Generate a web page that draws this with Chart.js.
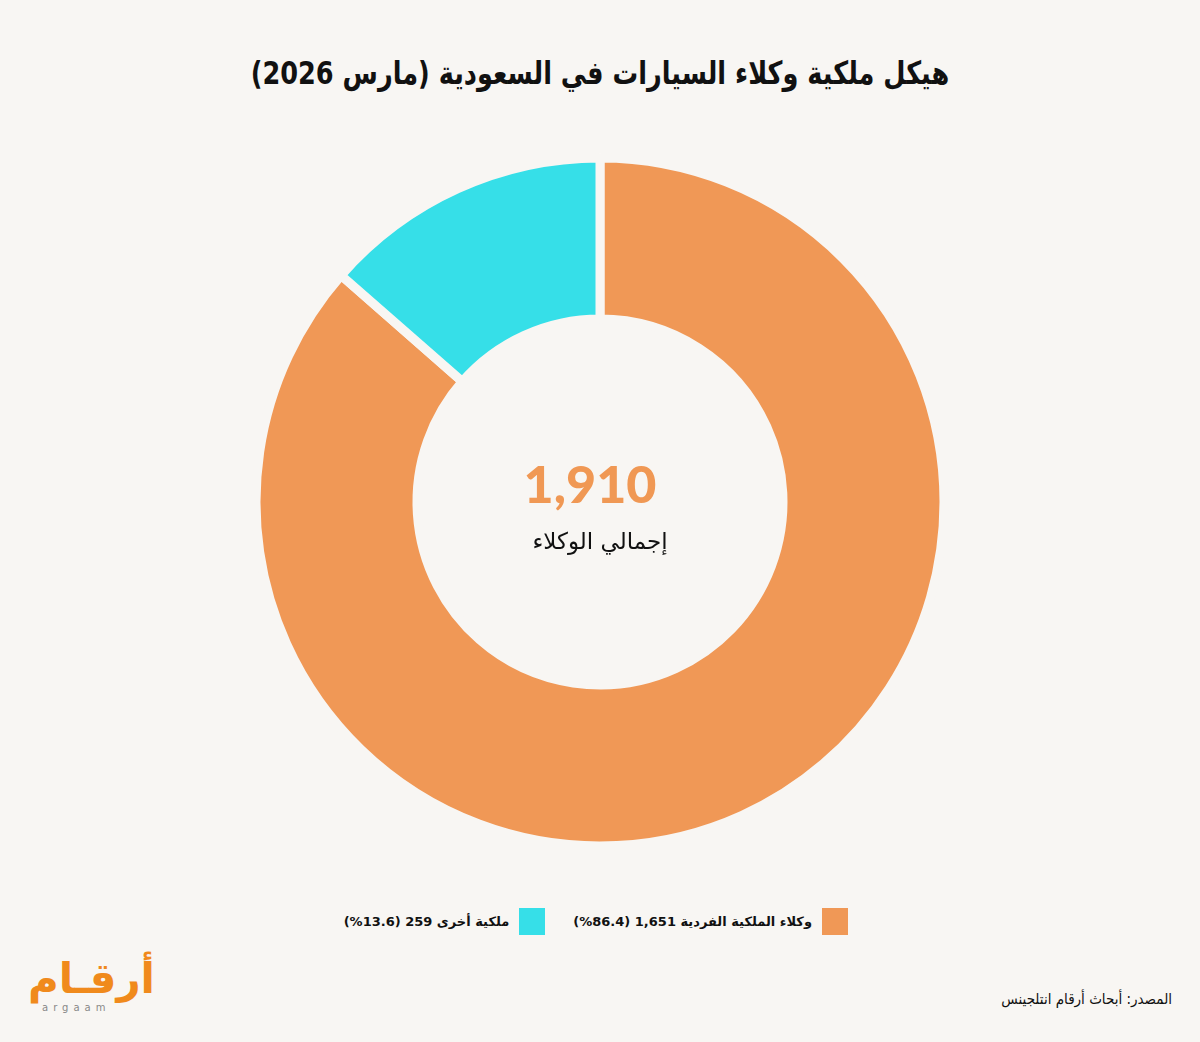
<!DOCTYPE html>
<html lang="ar" dir="rtl">
<head>
<meta charset="utf-8">
<script src="https://cdn.jsdelivr.net/npm/chart.js@4.4.1/dist/chart.umd.min.js"></script>
<style>
  html, body { margin: 0; padding: 0; }
  body {
    width: 1200px; height: 1042px; position: relative; overflow: hidden;
    background: #f8f6f3; font-family: "DejaVu Sans", "Noto Sans", sans-serif; color: #111;
  }
  #title {
    position: absolute; top: 54px; left: 0; width: 1200px; text-align: center;
    font-size: 32px; font-weight: bold; transform: scaleX(0.8);
  }
  #wrap { position: absolute; left: 240px; top: 142px; width: 720px; height: 720px; direction: ltr; }
  #total {
    position: absolute; top: 452px; left: 490px; width: 200px; text-align: center; direction: ltr;
    font-family: Lato, "Open Sans", sans-serif; font-size: 52px; font-weight: 900; color: #f09854;
  }
  #totalLabel {
    position: absolute; top: 528px; left: 460px; width: 280px; text-align: center;
    font-size: 23px;
  }
  #legend { position: absolute; top: 908px; right: 352px; display: flex; }
  .item { display: flex; align-items: center; margin-left: 28px; }
  .sw { width: 26px; height: 27px; margin-left: 10px; }
  .lt { font-size: 13px; font-weight: bold; }
  #source { position: absolute; top: 990px; right: 28px; font-size: 15px; font-family: "Liberation Sans Narrow", "DejaVu Sans Condensed", sans-serif; }
  #logo { position: absolute; left: 28px; top: 956px; width: 116px; direction: ltr; }
  #logo .ar { font-size: 42px; font-weight: bold; color: #f08a1c; line-height: 46px; text-align: right; width: 112px; }
  #logo .en { font-size: 10px; line-height: 12px; color: #888; letter-spacing: 5px; padding-left: 14px; }
</style>
</head>
<body>
<div id="title">هيكل ملكية وكلاء السيارات في السعودية (مارس 2026)</div>
<div id="wrap"><canvas id="chart" width="720" height="720"></canvas></div>
<div id="total"></div>
<div id="totalLabel">إجمالي الوكلاء</div>
<div id="legend"></div>
<div id="source">المصدر: أبحاث أرقام انتلجينس</div>
<div id="logo"><div class="ar">أرقـام</div><div class="en">argaam</div></div>
<script>
// بيانات الرسم
const labels = ["وكلاء الملكية الفردية", "ملكية أخرى"];
const counts = [1651, 259];
const shares = [86.4, 13.6];
const colors = ["#f09856", "#36dfe8"];
const bg = "#f8f6f3";

const total = counts.reduce((a, b) => a + b, 0);
document.getElementById("total").innerText = total.toLocaleString("en-US");

// legend
const legend = document.getElementById("legend");
labels.forEach((l, i) => {
    const item = document.createElement("div");
    item.className = "item";
    item.innerHTML = `<div class="sw" style="background:${colors[i]}"></div>` +
        `<div class="lt">${l} ${counts[i].toLocaleString("en-US")} (${shares[i]}%)</div>`;
    legend.appendChild(item);
});

const ctx = document.getElementById("chart").getContext("2d");
new Chart(ctx, {
    type: "doughnut",
    data: {
        labels: labels,
        datasets: [{
            data: counts,
            backgroundColor: colors,
            borderColor: bg,
            borderWidth: 9
        }]
    },
    options: {
        responsive: false,
        animation: false,
        radius: 344,
        cutout: "53.2%",
        plugins: { legend: { display: false }, tooltip: { enabled: false } }
    }
});
</script>
</body>
</html>
